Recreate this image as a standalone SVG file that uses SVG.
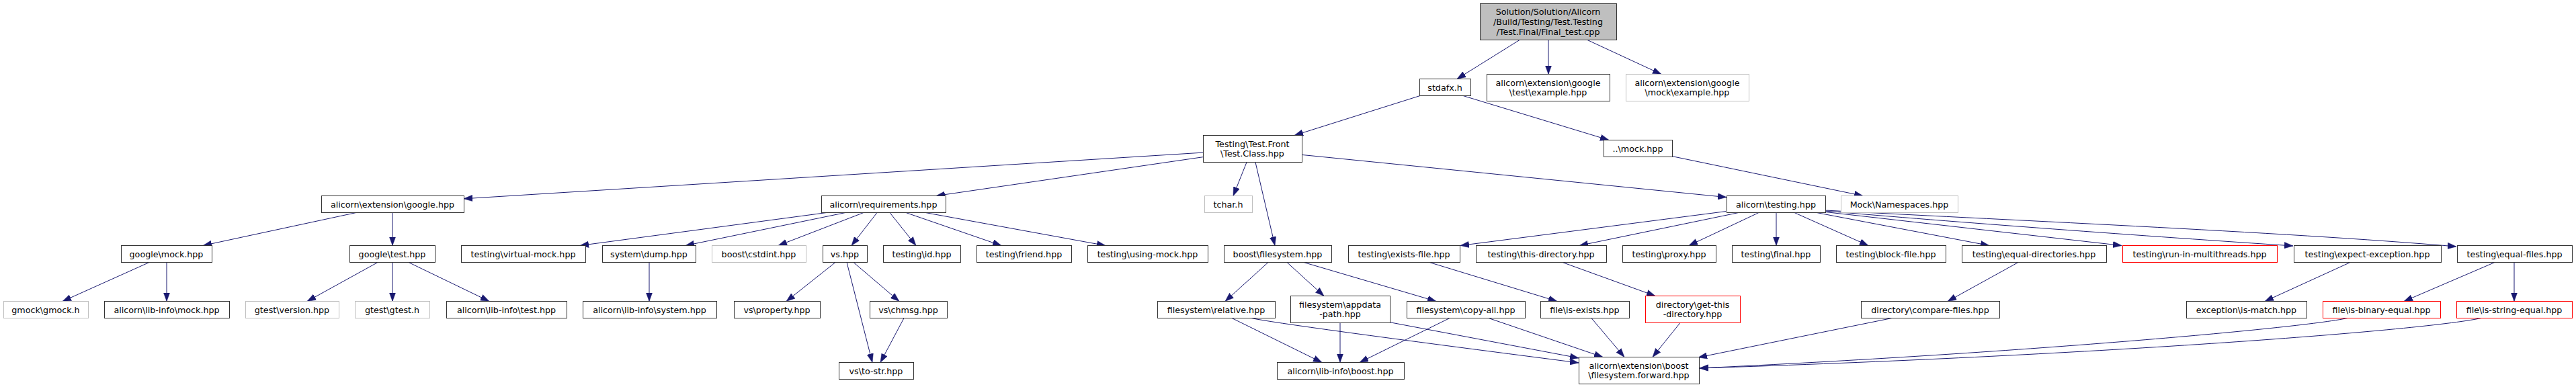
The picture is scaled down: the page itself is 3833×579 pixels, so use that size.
<svg xmlns="http://www.w3.org/2000/svg" width="3833" height="579" viewBox="0 0 3833 579">
<style>
.n rect{fill:#fff;stroke:#333;stroke-width:1}
.g rect{stroke:#bfbfbf}
.r rect{stroke:#ff0000}
.root rect{fill:#bfbfbf}
text{font-family:"DejaVu Sans",sans-serif;font-size:12.7px;text-anchor:middle;fill:#000}
#edges path{fill:none;stroke:#191970;stroke-width:1;marker-end:url(#a)}
</style>
<defs>
<marker id="a" markerUnits="userSpaceOnUse" markerWidth="13" markerHeight="10" viewBox="0 0 13 10" refX="13" refY="5" orient="auto"><path d="M0,0.3 L13,5 L0,9.7 z" fill="#191970" stroke="#191970" stroke-width="0.5"/></marker>
</defs>
<rect width="3833" height="579" fill="#fff"/>
<g id="edges">
<path d="M2261,59.5 L2168,117.5"/>
<path d="M2304,59.5 L2304,110.5"/>
<path d="M2362,59.5 L2472,110.5"/>
<path d="M2113,142.5 L1926,201.5"/>
<path d="M2177,142.5 L2394,208.5"/>
<path d="M2488,232.6 L2772,291.5"/>
<path d="M1790,227.1 L690,295.8"/>
<path d="M1790,233.7 L1393,291.5"/>
<path d="M1855,241.5 L1835,291.5"/>
<path d="M1868,241.5 L1897,365.5"/>
<path d="M1937,230.4 L2569,293.6"/>
<path d="M530,316.5 L302,365.5"/>
<path d="M584,316.5 L584,365.5"/>
<path d="M222,390.5 L93,448.5"/>
<path d="M248,390.5 L248,448.5"/>
<path d="M562,390.5 L457,448.5"/>
<path d="M584,390.5 L584,448.5"/>
<path d="M608,390.5 L728,448.5"/>
<path d="M1230,316.5 L863,365.5"/>
<path d="M1258,316.5 L1020,365.5"/>
<path d="M1285,316.5 L1158,365.5"/>
<path d="M1305,316.5 L1267,365.5"/>
<path d="M1324,316.5 L1363,365.5"/>
<path d="M1348,316.5 L1490,365.5"/>
<path d="M1377,316.5 L1645,365.5"/>
<path d="M966,390.5 L966,448.5"/>
<path d="M1243,390.5 L1170,448.5"/>
<path d="M1260,390.5 L1298,539.5"/>
<path d="M1270,390.5 L1338,448.5"/>
<path d="M1345,473.5 L1310,539.5"/>
<path d="M1887,390.5 L1823,448.5"/>
<path d="M1915,390.5 L1970,440.5"/>
<path d="M1940,390.5 L2137,448.5"/>
<path d="M1833,473.5 L1967,539.5"/>
<path d="M1862,473.5 Q1905,483 2349,540"/>
<path d="M1994,480.5 L1994,539.5"/>
<path d="M2068,479.7 L2349,532.9"/>
<path d="M2157,473.5 L2023,539.5"/>
<path d="M2215,473.5 L2385,531.5"/>
<path d="M2127,390.5 L2317,448.5"/>
<path d="M2325,390.5 L2463,440.5"/>
<path d="M2368,473.5 L2417,531.5"/>
<path d="M2500,480.5 L2459,531.5"/>
<path d="M2815,473.5 L2527,532"/>
<path d="M3493,473.5 C3420,489 3000,526 2529,548"/>
<path d="M3692,473.5 C3600,493 3100,530 2529,548"/>
<path d="M2568,314.6 L2173,365.5"/>
<path d="M2587,316.5 L2350,365.5"/>
<path d="M2617,316.5 L2513,365.5"/>
<path d="M2643,316.5 L2643,365.5"/>
<path d="M2670,316.5 L2780,365.5"/>
<path d="M2703,316.5 L2960,365.5"/>
<path d="M2716,315.5 L3157,365.5"/>
<path d="M2716,314 C2900,330 3200,352 3412,366"/>
<path d="M2716,313 C2950,326 3400,345 3655,367"/>
<path d="M3003,390.5 L2898,448.5"/>
<path d="M3497,390.5 L3370,448.5"/>
<path d="M3712,390.5 L3577,448.5"/>
<path d="M3741,390.5 L3741,448.5"/>
</g>
<g id="n_root" class="n root"><rect x="2202.5" y="5.5" width="203" height="54"/><text x="2303.5" y="22.3">Solution/Solution/Alicorn</text><text x="2303.5" y="37">/Build/Testing/Test.Testing</text><text x="2303.5" y="51.7">/Test.Final/Final_test.cpp</text></g>
<g id="n_stdafx" class="n"><rect x="2112.5" y="117.5" width="76" height="25"/><text x="2150" y="134.5">stdafx.h</text></g>
<g id="n_gtestex" class="n"><rect x="2212.5" y="110.5" width="183" height="40"/><text x="2303.5" y="127.65">alicorn\extension\google</text><text x="2303.5" y="142.35">\test\example.hpp</text></g>
<g id="n_gmockex" class="n g"><rect x="2419.5" y="110.5" width="183" height="40"/><text x="2510.5" y="127.65">alicorn\extension\google</text><text x="2510.5" y="142.35">\mock\example.hpp</text></g>
<g id="n_testclass" class="n"><rect x="1790.5" y="201.5" width="147" height="40"/><text x="1863.5" y="218.65">Testing\Test.Front</text><text x="1863.5" y="233.35">\Test.Class.hpp</text></g>
<g id="n_mock" class="n"><rect x="2386.5" y="208.5" width="102" height="25"/><text x="2437" y="225.5">..\mock.hpp</text></g>
<g id="n_google" class="n"><rect x="478.5" y="291.5" width="212" height="25"/><text x="584" y="308.5">alicorn\extension\google.hpp</text></g>
<g id="n_req" class="n"><rect x="1222.5" y="291.5" width="185" height="25"/><text x="1314.5" y="308.5">alicorn\requirements.hpp</text></g>
<g id="n_tchar" class="n g"><rect x="1792.5" y="291.5" width="71" height="25"/><text x="1827.5" y="308.5">tchar.h</text></g>
<g id="n_testing" class="n"><rect x="2569.5" y="291.5" width="147" height="25"/><text x="2642.5" y="308.5">alicorn\testing.hpp</text></g>
<g id="n_mockns" class="n g"><rect x="2739.5" y="291.5" width="174" height="25"/><text x="2826" y="308.5">Mock\Namespaces.hpp</text></g>
<g id="n_gmockhpp" class="n"><rect x="180.5" y="365.5" width="135" height="25"/><text x="247.5" y="382.5">google\mock.hpp</text></g>
<g id="n_gtesthpp" class="n"><rect x="520.5" y="365.5" width="127" height="25"/><text x="583.5" y="382.5">google\test.hpp</text></g>
<g id="n_vmock" class="n"><rect x="686.5" y="365.5" width="185" height="25"/><text x="778.5" y="382.5">testing\virtual-mock.hpp</text></g>
<g id="n_dump" class="n"><rect x="896.5" y="365.5" width="139" height="25"/><text x="965.5" y="382.5">system\dump.hpp</text></g>
<g id="n_cstdint" class="n g"><rect x="1059.5" y="365.5" width="140" height="25"/><text x="1129" y="382.5">boost\cstdint.hpp</text></g>
<g id="n_vs" class="n"><rect x="1224.5" y="365.5" width="66" height="25"/><text x="1257" y="382.5">vs.hpp</text></g>
<g id="n_id" class="n"><rect x="1314.5" y="365.5" width="115" height="25"/><text x="1371.5" y="382.5">testing\id.hpp</text></g>
<g id="n_friend" class="n"><rect x="1453.5" y="365.5" width="141" height="25"/><text x="1523.5" y="382.5">testing\friend.hpp</text></g>
<g id="n_usingmock" class="n"><rect x="1618.5" y="365.5" width="179" height="25"/><text x="1707.5" y="382.5">testing\using-mock.hpp</text></g>
<g id="n_bfs" class="n"><rect x="1821.5" y="365.5" width="160" height="25"/><text x="1901" y="382.5">boost\filesystem.hpp</text></g>
<g id="n_existsfile" class="n"><rect x="2006.5" y="365.5" width="166" height="25"/><text x="2089" y="382.5">testing\exists-file.hpp</text></g>
<g id="n_thisdir" class="n"><rect x="2196.5" y="365.5" width="194" height="25"/><text x="2293" y="382.5">testing\this-directory.hpp</text></g>
<g id="n_proxy" class="n"><rect x="2414.5" y="365.5" width="139" height="25"/><text x="2483.5" y="382.5">testing\proxy.hpp</text></g>
<g id="n_final" class="n"><rect x="2577.5" y="365.5" width="131" height="25"/><text x="2642.5" y="382.5">testing\final.hpp</text></g>
<g id="n_block" class="n"><rect x="2732.5" y="365.5" width="163" height="25"/><text x="2813.5" y="382.5">testing\block-file.hpp</text></g>
<g id="n_eqdirs" class="n"><rect x="2919.5" y="365.5" width="215" height="25"/><text x="3026.5" y="382.5">testing\equal-directories.hpp</text></g>
<g id="n_multi" class="n r"><rect x="3158.5" y="365.5" width="230" height="25"/><text x="3273" y="382.5">testing\run-in-multithreads.hpp</text></g>
<g id="n_expect" class="n"><rect x="3413.5" y="365.5" width="219" height="25"/><text x="3522.5" y="382.5">testing\expect-exception.hpp</text></g>
<g id="n_eqfiles" class="n"><rect x="3656.5" y="365.5" width="171" height="25"/><text x="3741.5" y="382.5">testing\equal-files.hpp</text></g>
<g id="n_gmockh" class="n g"><rect x="5.5" y="448.5" width="126" height="25"/><text x="68" y="465.5">gmock\gmock.h</text></g>
<g id="n_limock" class="n"><rect x="155.5" y="448.5" width="186" height="25"/><text x="248" y="465.5">alicorn\lib-info\mock.hpp</text></g>
<g id="n_gtver" class="n g"><rect x="365.5" y="448.5" width="139" height="25"/><text x="434.5" y="465.5">gtest\version.hpp</text></g>
<g id="n_gtesth" class="n g"><rect x="528.5" y="448.5" width="111" height="25"/><text x="583.5" y="465.5">gtest\gtest.h</text></g>
<g id="n_litest" class="n"><rect x="664.5" y="448.5" width="179" height="25"/><text x="753.5" y="465.5">alicorn\lib-info\test.hpp</text></g>
<g id="n_lisys" class="n"><rect x="867.5" y="448.5" width="199" height="25"/><text x="966.5" y="465.5">alicorn\lib-info\system.hpp</text></g>
<g id="n_vsprop" class="n"><rect x="1092.5" y="448.5" width="128" height="25"/><text x="1156" y="465.5">vs\property.hpp</text></g>
<g id="n_vschmsg" class="n"><rect x="1294.5" y="448.5" width="115" height="25"/><text x="1351.5" y="465.5">vs\chmsg.hpp</text></g>
<g id="n_fsrel" class="n"><rect x="1722.5" y="448.5" width="175" height="25"/><text x="1809.5" y="465.5">filesystem\relative.hpp</text></g>
<g id="n_fsapp" class="n"><rect x="1920.5" y="440.5" width="148" height="40"/><text x="1994" y="457.65">filesystem\appdata</text><text x="1994" y="472.35">-path.hpp</text></g>
<g id="n_fscopy" class="n"><rect x="2093.5" y="448.5" width="176" height="25"/><text x="2181" y="465.5">filesystem\copy-all.hpp</text></g>
<g id="n_isexists" class="n"><rect x="2292.5" y="448.5" width="132" height="25"/><text x="2358" y="465.5">file\is-exists.hpp</text></g>
<g id="n_getthis" class="n r"><rect x="2448.5" y="440.5" width="141" height="40"/><text x="2518.5" y="457.65">directory\get-this</text><text x="2518.5" y="472.35">-directory.hpp</text></g>
<g id="n_cmpfiles" class="n"><rect x="2769.5" y="448.5" width="206" height="25"/><text x="2872" y="465.5">directory\compare-files.hpp</text></g>
<g id="n_ismatch" class="n"><rect x="3253.5" y="448.5" width="179" height="25"/><text x="3342.5" y="465.5">exception\is-match.hpp</text></g>
<g id="n_binary" class="n r"><rect x="3456.5" y="448.5" width="175" height="25"/><text x="3543.5" y="465.5">file\is-binary-equal.hpp</text></g>
<g id="n_string" class="n r"><rect x="3655.5" y="448.5" width="172" height="25"/><text x="3741" y="465.5">file\is-string-equal.hpp</text></g>
<g id="n_tostr" class="n"><rect x="1248.5" y="539.5" width="111" height="25"/><text x="1303.5" y="556.5">vs\to-str.hpp</text></g>
<g id="n_liboost" class="n"><rect x="1900.5" y="539.5" width="189" height="25"/><text x="1994.5" y="556.5">alicorn\lib-info\boost.hpp</text></g>
<g id="n_fsfwd" class="n"><rect x="2349.5" y="531.5" width="179" height="40"/><text x="2438.5" y="548.65">alicorn\extension\boost</text><text x="2438.5" y="563.35">\filesystem.forward.hpp</text></g>
</svg>
